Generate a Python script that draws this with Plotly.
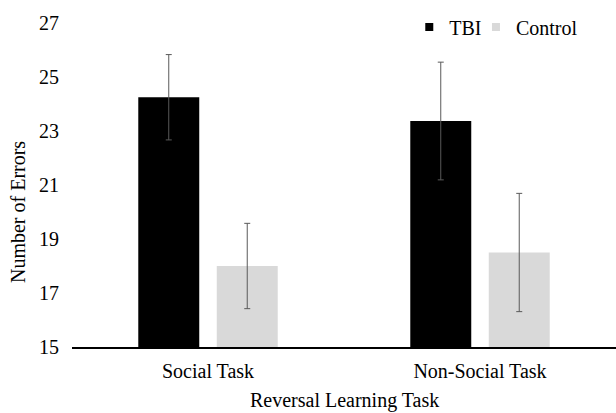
import plotly.graph_objects as go

# Mean number of errors per task, with error-bar half-widths
tasks = ["Social Task", "Non-Social Task"]
tbi_means = [24.25, 23.37]
tbi_err = [1.58, 2.18]
control_means = [18.0, 18.5]
control_err = [1.58, 2.19]
y_ticks = [15, 17, 19, 21, 23, 25, 27]

FONT = "Liberation Serif"
TXT = dict(family=FONT, size=20, color="#000000")
ERR_COLOR = "#5a5a5a"

fig = go.Figure()

fig.add_trace(go.Bar(
    x=tasks, y=tbi_means, name="TBI", showlegend=False,
    marker=dict(color="#000000", line=dict(width=0)),
    error_y=dict(type="data", array=tbi_err, color=ERR_COLOR, thickness=1, width=3),
))
fig.add_trace(go.Bar(
    x=tasks, y=control_means, name="Control", showlegend=False,
    marker=dict(color="#d9d9d9", line=dict(width=0)),
    error_y=dict(type="data", array=control_err, color=ERR_COLOR, thickness=1, width=3),
))

# Legend entries with small square swatches, one legend box per entry
for name, color, leg in [("TBI", "#000000", "legend"), ("Control", "#d9d9d9", "legend2")]:
    fig.add_trace(go.Scatter(
        x=[None], y=[None], mode="markers", name=name, legend=leg,
        marker=dict(symbol="square", size=8, color=color),
    ))

legend_common = dict(
    orientation="h", xanchor="left", y=0.988, yanchor="middle",
    bgcolor="rgba(0,0,0,0)", font=TXT, itemwidth=30, borderwidth=0,
)

fig.update_layout(
    width=616, height=413,
    margin=dict(l=72, r=0, t=23, b=66),
    paper_bgcolor="white", plot_bgcolor="white",
    font=TXT,
    barmode="group", bargap=0.423, bargroupgap=0.223,
    showlegend=True,
    legend=dict(legend_common, x=0.620),
    legend2=dict(legend_common, x=0.7426),
    xaxis=dict(
        showline=True, linecolor="#000000", linewidth=2,
        ticks="", showgrid=False, ticklabelstandoff=5, tickfont=TXT,
    ),
    yaxis=dict(
        range=[15, 27], tickvals=y_ticks, ticktext=[str(v) for v in y_ticks],
        showline=False, showgrid=False, zeroline=False, ticks="",
        ticklabelstandoff=12, tickfont=TXT,
    ),
    annotations=[
        dict(text="Number of Errors", textangle=-90, xref="paper", yref="paper",
             x=-0.099, y=0.417, xanchor="center", yanchor="middle",
             showarrow=False, font=TXT),
        dict(text="Reversal Learning Task", xref="paper", yref="paper",
             x=0.5, y=-0.1636, xanchor="center", yanchor="middle",
             showarrow=False, font=TXT),
    ],
)

fig.write_html("out.html")
